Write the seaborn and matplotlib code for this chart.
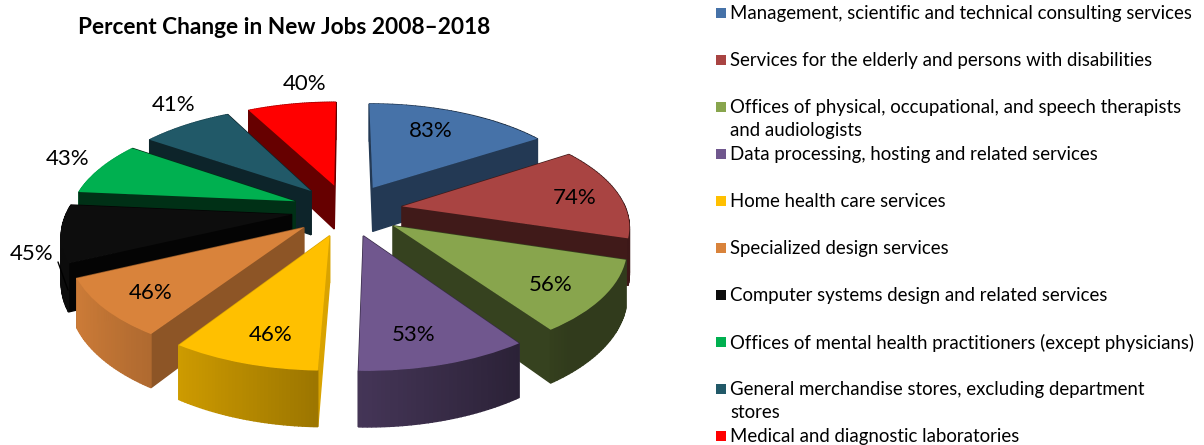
import numpy as np
import matplotlib
matplotlib.use("Agg")
import matplotlib.pyplot as plt
import matplotlib.transforms as mtrans
from matplotlib.colors import to_rgb
from matplotlib.patches import Rectangle
import seaborn as sns

categories = [
    "Management, scientific and technical consulting services",
    "Services for the elderly and persons with disabilities",
    "Offices of physical, occupational, and speech therapists\nand audiologists",
    "Data processing, hosting and related services",
    "Home health care services",
    "Specialized design services",
    "Computer systems design and related services",
    "Offices of mental health practitioners (except physicians)",
    "General merchandise stores, excluding department\nstores",
    "Medical and diagnostic laboratories",
]
values = [83, 74, 56, 53, 46, 46, 45, 43, 41, 40]
colors = ["#4672A8", "#A94442", "#88A54D", "#70578E", "#FFC000",
          "#D9833B", "#0D0D0D", "#00B050", "#215968", "#FF0000"]
cut_shades = [0.5, 0.38, 0.4, 0.5, 0.85, 0.65, 0.3, 0.27, 0.4, 0.4]
title = "Percent Change in New Jobs 2008\u20132018"

# layout (pixels)
W, H = 1204, 445
CX, CY, RX, RY, DEPTH, PERSP = 347, 210, 224, 104, 45, 0.16
label_xy = [(431, 131), (575, 198), (551, 285), (414, 335), (271, 335),
            (151, 293), (32, 254), (68, 159), (174, 105), (305, 84)]

sns.set_theme(style="white")
plt.rcParams["font.family"] = ["Lato", "DejaVu Sans"]
palette = sns.color_palette(colors)


def project(x, y, z=0.0):
    w = 1 + PERSP * np.asarray(y)
    return CX + RX * np.asarray(x) / w, CY - RY * np.asarray(y) / w + DEPTH * z / w


class Persp(mtrans.Transform):
    input_dims = output_dims = 2

    def transform_non_affine(self, pts):
        pts = np.asarray(pts)
        return np.column_stack(project(pts[:, 0], pts[:, 1]))


fig = plt.figure(figsize=(W / 100, H / 100), dpi=100)
ax = fig.add_axes([0, 0, 1, 1])
wedges, _ = ax.pie(values, colors=palette, startangle=90, counterclock=False,
                   explode=[0.25] * len(values), radius=1.0,
                   wedgeprops=dict(linewidth=0))
ax.set_aspect("auto")
ax.set_xlim(0, W)
ax.set_ylim(H, 0)
ax.axis("off")


def shade(c, f):
    return tuple(min(1, v * f) for v in to_rgb(c))


def arc_factor(t):
    return float(np.clip(0.6 - 0.38 * np.cos(np.radians(t)), 0.36, 1.0))


def mid(w):
    return np.radians((w.theta1 + w.theta2) / 2)


order = sorted(range(len(wedges)), key=lambda i: -np.sin(mid(wedges[i])))
z = 2
tr = Persp() + ax.transData
for i in order:
    w = wedges[i]
    c = palette[i]
    cx0, cy0 = w.center
    ts = np.linspace(w.theta1, w.theta2, 41)
    xs = cx0 + np.cos(np.radians(ts))
    ys = cy0 + np.sin(np.radians(ts))
    cut = cut_shades[i]
    quads = [(cy0 + np.sin(np.radians(w.theta1)) / 2, [(cx0, cy0), (xs[0], ys[0])], cut),
             (cy0 + np.sin(np.radians(w.theta2)) / 2, [(cx0, cy0), (xs[-1], ys[-1])], cut)]
    for k in range(len(ts) - 1):
        f = arc_factor((ts[k] + ts[k + 1]) / 2)
        quads.append(((ys[k] + ys[k + 1]) / 2, [(xs[k], ys[k]), (xs[k + 1], ys[k + 1])], f))
    quads.sort(key=lambda q: -q[0])
    for _, ((x0, y0), (x1, y1)), f in quads:
        a = project(x0, y0, 0), project(x1, y1, 0), project(x1, y1, 1), project(x0, y0, 1)
        col = shade(c, f)
        ax.fill([p[0] for p in a], [p[1] for p in a], facecolor=col, edgecolor=col,
                linewidth=1.0, zorder=z)
        z += 1
    w.set_transform(tr)
    w.set_clip_on(False)
    w.set_zorder(z)
    z += 1

for v, (x, y) in zip(values, label_xy):
    ax.text(x, y, f"{v}%", ha="center", va="center", fontsize=16, color="black", zorder=z)
ax.plot([58, 68], [262, 290], color="black", lw=1, zorder=z)

ax.text(284, 27, title, ha="center", va="center", fontsize=16.3, fontweight="bold",
        color="black", zorder=z)

for i, (lab, c) in enumerate(zip(categories, palette)):
    y = 13 + 47 * i
    ax.add_patch(Rectangle((716, y - 5), 10, 10, facecolor=c, edgecolor="none", zorder=z))
    ax.text(730, y - 8, lab, ha="left", va="top", fontsize=13.4, color="black",
            linespacing=1.4, zorder=z)

fig.savefig("out.png", dpi=100)
